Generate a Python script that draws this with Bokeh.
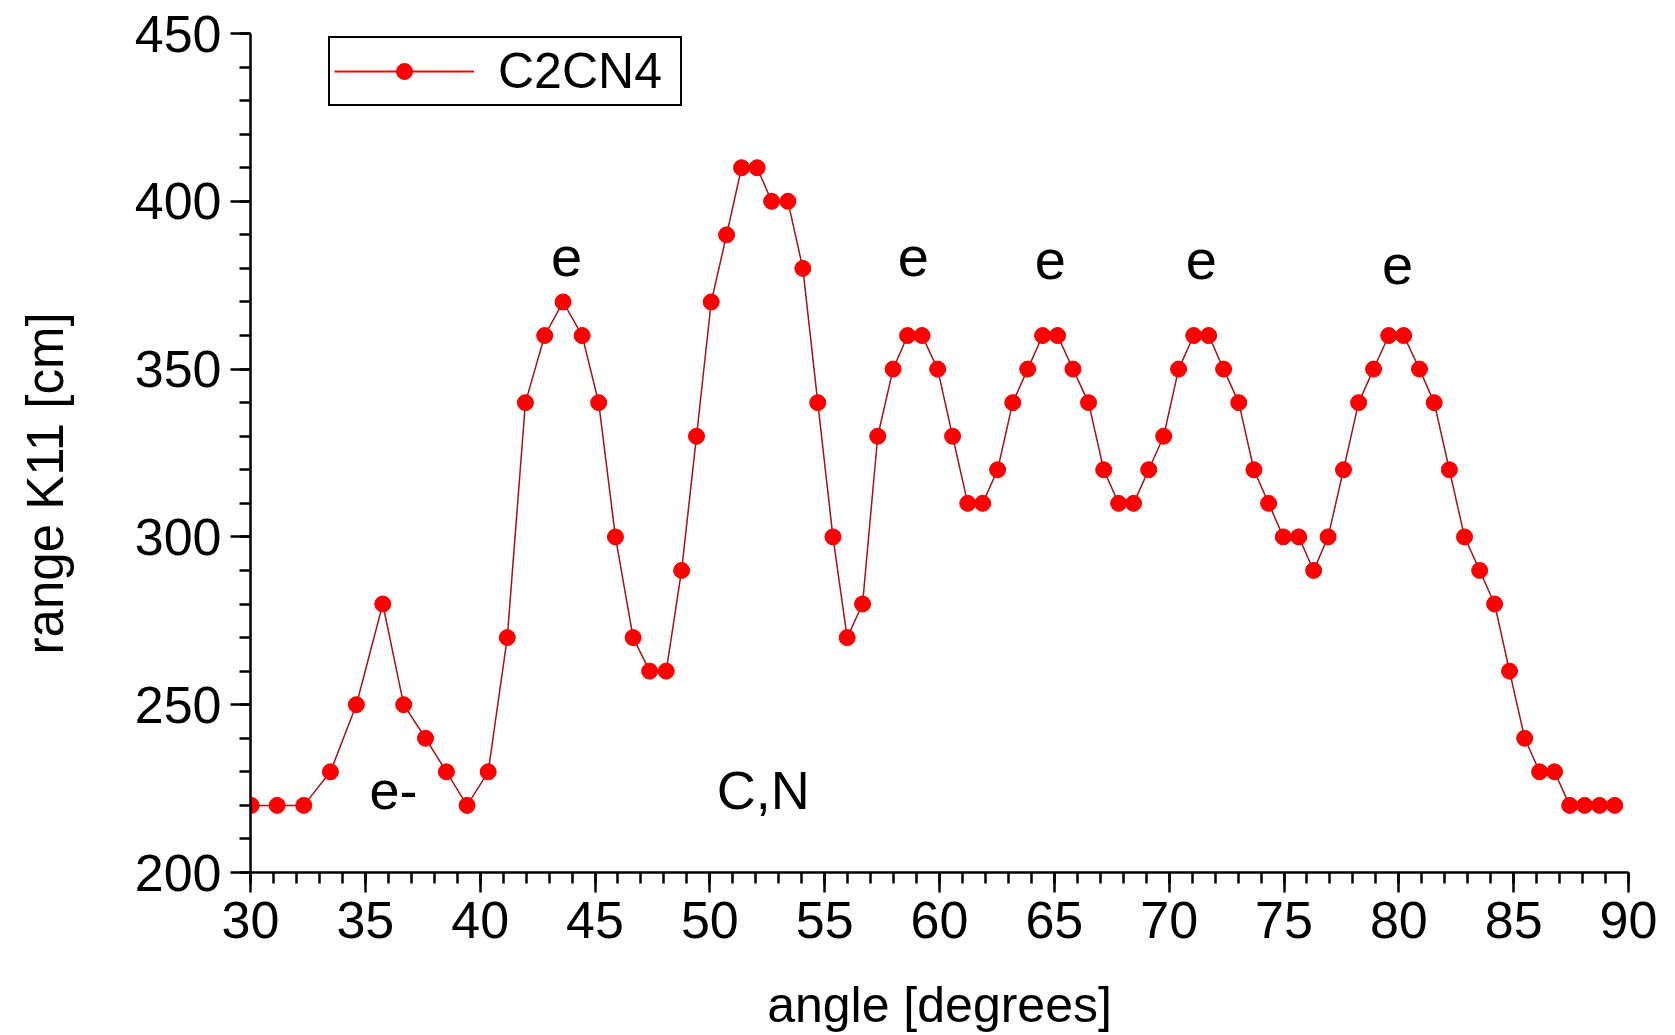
import math
from bokeh.plotting import figure
from bokeh.layouts import row
from bokeh.models import Range1d, FixedTicker, Legend, LegendItem
from bokeh.core.properties import value
from bokeh.embed import file_html
from bokeh.resources import INLINE

# ---- data ----
angle = [30.03, 31.16, 32.32, 33.48, 34.61, 35.76, 36.67, 37.62, 38.53, 39.43,
         40.35, 41.18, 41.97, 42.81, 43.61, 44.44, 45.16, 45.89, 46.66, 47.38,
         48.10, 48.77, 49.42, 50.06, 50.73, 51.38, 52.06, 52.69, 53.40, 54.05,
         54.70, 55.36, 55.98, 56.65, 57.31, 57.98, 58.61, 59.24, 59.92, 60.57,
         61.23, 61.88, 62.53, 63.19, 63.84, 64.49, 65.14, 65.81, 66.49, 67.15,
         67.80, 68.45, 69.11, 69.76, 70.41, 71.07, 71.72, 72.37, 73.03, 73.69,
         74.33, 74.97, 75.64, 76.29, 76.92, 77.59, 78.25, 78.90, 79.56, 80.21,
         80.90, 81.54, 82.20, 82.86, 83.52, 84.17, 84.82, 85.48, 86.13, 86.78,
         87.44, 88.09, 88.74, 89.40]
range_k11 = [220, 220, 220, 230, 250, 280, 250, 240, 230, 220,
             230, 270, 340, 360, 370, 360, 340, 300, 270, 260,
             260, 290, 330, 370, 390, 410, 410, 400, 400, 380,
             340, 300, 270, 280, 330, 350, 360, 360, 350, 330,
             310, 310, 320, 340, 350, 360, 360, 350, 340, 320,
             310, 310, 320, 330, 350, 360, 360, 350, 340, 320,
             310, 300, 300, 290, 300, 320, 340, 350, 360, 360,
             350, 340, 320, 300, 290, 280, 260, 240, 230, 230,
             220, 220, 220, 220]
series_name = "C2CN4"
x_title = "angle [degrees]"
y_title = "range K11 [cm]"

x_major_ticks = list(range(30, 91, 5))
x_minor_ticks = list(range(30, 91, 1))
y_major_ticks = list(range(200, 451, 50))
y_minor_ticks = list(range(200, 451, 10))

ann_e_text = ["e", "e", "e", "e", "e"]
ann_e_x = [43.76, 58.86, 64.83, 71.40, 79.94]
ann_e_y = [383.5, 383.5, 382.5, 382.5, 381.0]
ann_low_text = ["e-", "C,N"]
ann_low_x = [36.23, 52.33]
ann_low_y = [224.5, 224.5]

FONT = "Liberation Sans"
SIDE_W = 100
TOTAL_W = 1675
H = 1035

# ---- side panel holding the vertical axis title ----
side = figure(width=SIDE_W, height=H, output_backend="svg", toolbar_location=None,
              x_range=Range1d(0, SIDE_W), y_range=Range1d(0, H),
              x_axis_type=None, y_axis_type=None,
              min_border_left=0, min_border_right=0,
              min_border_top=0, min_border_bottom=0)
side.outline_line_color = None
side.grid.visible = False
side.text(x=[45], y=[480], text=[y_title], angle=math.pi / 2,
          text_font=value(FONT), text_font_size="51px", text_color="black",
          text_align="center", text_baseline="middle")

# ---- main plot ----
p = figure(width=TOTAL_W - SIDE_W, height=H, output_backend="svg", toolbar_location=None,
           x_range=Range1d(30, 90), y_range=Range1d(200, 450),
           min_border_left=250 - SIDE_W, min_border_right=47,
           min_border_top=33, min_border_bottom=163)
p.outline_line_color = None
p.grid.visible = False
p.background_fill_color = "white"
p.border_fill_color = "white"

p.line(angle, range_k11, line_color="#a01515", line_width=1.5)
pts = p.scatter(angle, range_k11, size=16, fill_color="#ff0000", line_color="#f00000")

leg_line = p.line([float("nan")], [float("nan")], line_color="#ff0000", line_width=2)

p.text(x=ann_e_x, y=ann_e_y, text=ann_e_text, text_font=value(FONT),
       text_font_size="56px", text_align="center", text_baseline="middle",
       text_color="black")
p.text(x=ann_low_x, y=ann_low_y, text=ann_low_text, text_font=value(FONT),
       text_font_size="54px", text_align="center", text_baseline="middle",
       text_color="black")

p.xaxis.ticker = FixedTicker(ticks=x_major_ticks, minor_ticks=x_minor_ticks)
p.yaxis.ticker = FixedTicker(ticks=y_major_ticks, minor_ticks=y_minor_ticks)
for ax in (p.xaxis, p.yaxis):
    ax.axis_line_width = 2.5
    ax.axis_line_color = "black"
    ax.major_tick_line_width = 2.5
    ax.minor_tick_line_width = 2.5
    ax.major_tick_line_color = "black"
    ax.minor_tick_line_color = "black"
    ax.major_tick_out = 20
    ax.major_tick_in = 0
    ax.minor_tick_out = 11
    ax.minor_tick_in = 0
    ax.major_label_text_font = FONT
    ax.major_label_text_font_size = "52px"
    ax.major_label_text_color = "black"
    ax.axis_label_text_font = FONT
    ax.axis_label_text_font_size = "50px"
    ax.axis_label_text_font_style = "normal"
    ax.axis_label_text_color = "black"

p.xaxis.axis_label = x_title
p.xaxis.major_label_standoff = 9
p.yaxis.major_label_standoff = 9
p.xaxis.axis_label_standoff = 36

legend = Legend(items=[LegendItem(label=series_name, renderers=[leg_line, pts])],
                location=(78, 766))
legend.border_line_color = "black"
legend.border_line_alpha = 1.0
legend.border_line_width = 2
legend.background_fill_alpha = 1
legend.padding = 4
legend.margin = 0
legend.glyph_width = 140
legend.glyph_height = 40
legend.label_standoff = 24
legend.label_width = 178
legend.label_text_font = FONT
legend.label_text_font_size = "50px"
legend.label_text_color = "black"
p.add_layout(legend)

layout = row(side, p, spacing=0)
open("out.html", "w").write(file_html(layout, INLINE))
